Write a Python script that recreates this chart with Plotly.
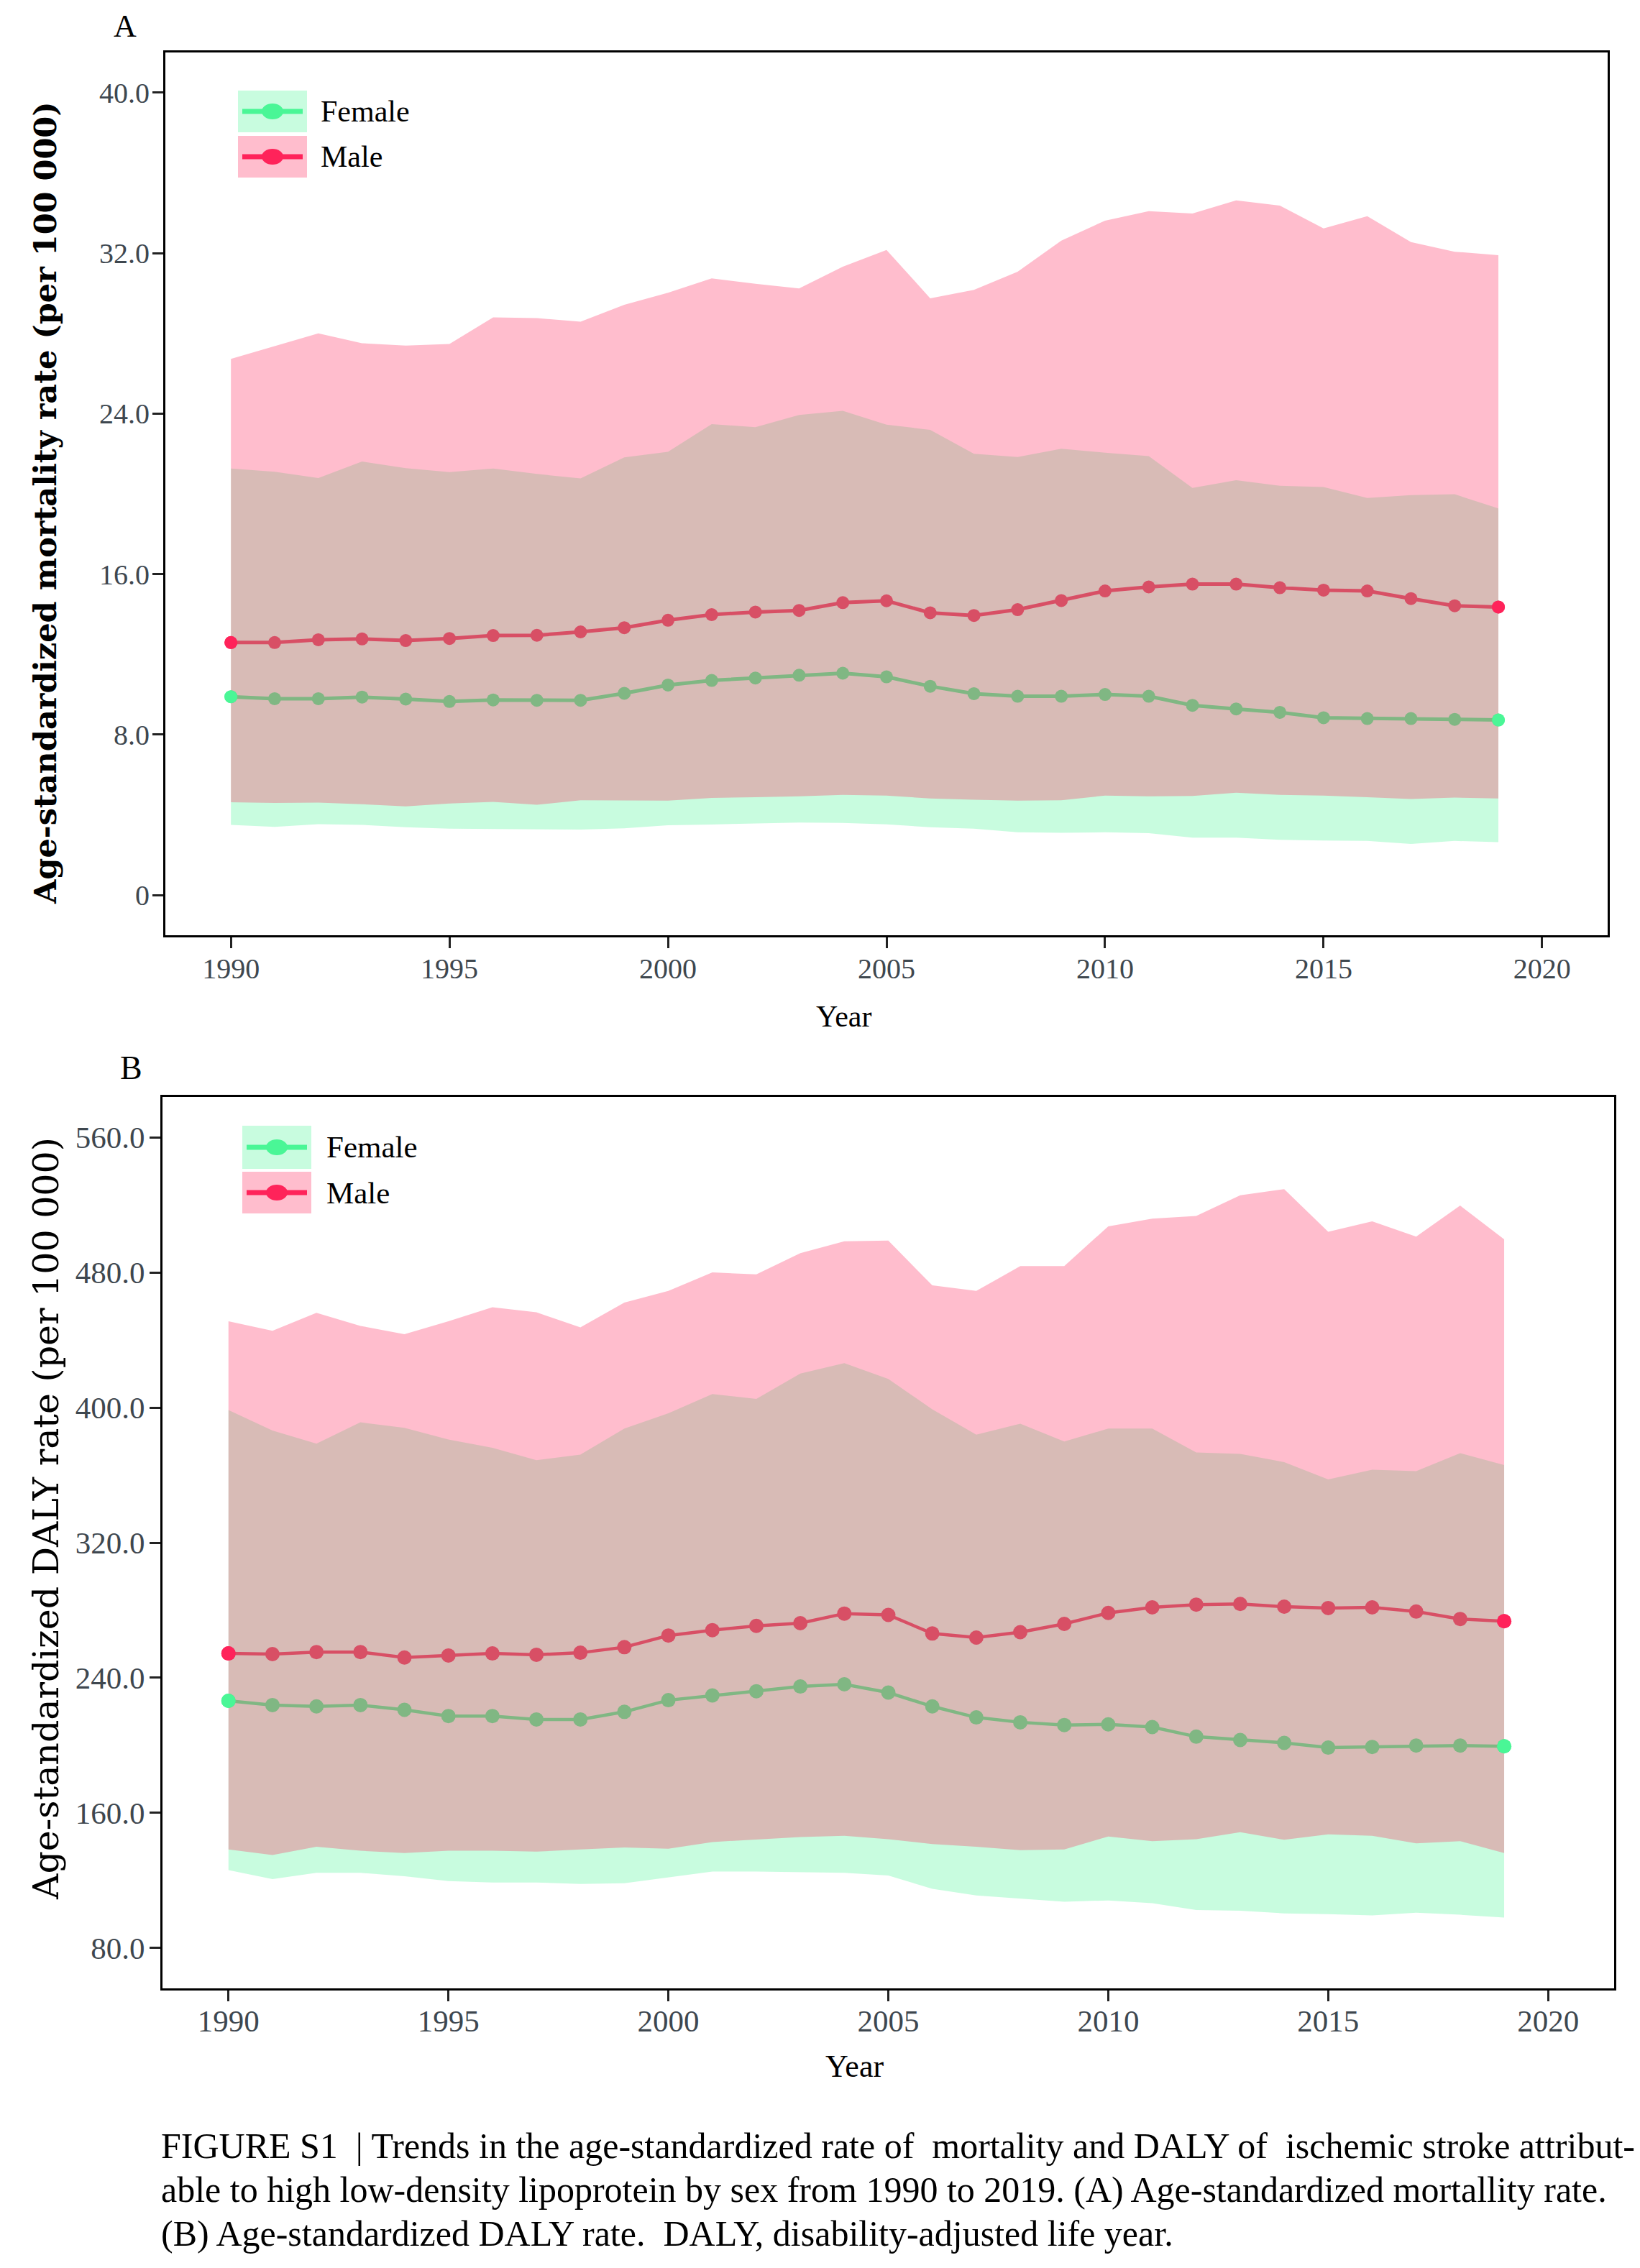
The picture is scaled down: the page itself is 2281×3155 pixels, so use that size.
import plotly.graph_objects as go

W, H = 2281, 3155

years = list(range(1990, 2020))

# Panel A: age-standardized mortality rate (per 100 000)
mort_male = [12.59, 12.59, 12.73, 12.77, 12.69, 12.79, 12.94, 12.95, 13.12, 13.33,
             13.70, 13.98, 14.11, 14.19, 14.58, 14.67, 14.07, 13.94, 14.23, 14.68,
             15.16, 15.36, 15.50, 15.50, 15.32, 15.20, 15.16, 14.78, 14.42, 14.36]
mort_male_upper = [26.73, 27.37, 28.00, 27.51, 27.39, 27.47, 28.80, 28.76, 28.58, 29.42,
                   30.02, 30.74, 30.47, 30.24, 31.32, 32.16, 29.75, 30.17, 31.07, 32.62,
                   33.62, 34.09, 33.97, 34.63, 34.37, 33.23, 33.84, 32.55, 32.07, 31.90]
mort_male_lower = [4.63, 4.59, 4.61, 4.53, 4.42, 4.57, 4.65, 4.50, 4.73, 4.71,
                   4.71, 4.84, 4.88, 4.92, 5.00, 4.96, 4.82, 4.75, 4.71, 4.73,
                   4.96, 4.92, 4.94, 5.10, 5.00, 4.96, 4.88, 4.79, 4.86, 4.82]
mort_female = [9.89, 9.79, 9.79, 9.87, 9.77, 9.65, 9.73, 9.71, 9.71, 10.06,
               10.47, 10.70, 10.82, 10.96, 11.06, 10.88, 10.41, 10.04, 9.91, 9.91,
               10.00, 9.91, 9.46, 9.28, 9.11, 8.84, 8.80, 8.80, 8.76, 8.73]
mort_female_upper = [21.26, 21.10, 20.79, 21.61, 21.28, 21.08, 21.26, 20.99, 20.77, 21.82,
                     22.10, 23.48, 23.32, 23.93, 24.14, 23.45, 23.19, 22.00, 21.84, 22.25,
                     22.05, 21.88, 20.30, 20.68, 20.40, 20.34, 19.79, 19.94, 19.98, 19.27]
mort_female_lower = [3.50, 3.40, 3.54, 3.50, 3.38, 3.31, 3.31, 3.29, 3.27, 3.33,
                     3.48, 3.52, 3.56, 3.62, 3.60, 3.53, 3.38, 3.31, 3.13, 3.11,
                     3.13, 3.09, 2.86, 2.86, 2.76, 2.72, 2.70, 2.55, 2.70, 2.64]

# Panel B: age-standardized DALY rate (per 100 000)
daly_male = [254.4, 254.0, 255.2, 255.2, 252.0, 253.2, 254.4, 253.6, 254.8, 258.1,
             265.0, 268.2, 270.7, 272.3, 278.0, 277.2, 266.2, 263.8, 267.0, 271.9,
             278.4, 281.7, 283.3, 283.7, 282.1, 281.3, 281.7, 279.2, 274.8, 273.5]
daly_male_upper = [451.2, 445.5, 456.1, 448.4, 443.5, 451.2, 459.4, 456.5, 447.5, 462.2,
                   469.1, 480.1, 478.9, 491.5, 498.5, 498.9, 472.4, 469.1, 483.8, 483.8,
                   507.4, 511.9, 513.5, 525.8, 529.4, 504.2, 510.3, 501.3, 519.7, 499.7]
daly_male_lower = [138.3, 135.0, 139.9, 137.5, 136.2, 137.5, 137.5, 137.0, 138.3, 139.5,
                   138.7, 142.7, 144.0, 145.6, 146.4, 144.4, 141.5, 139.9, 137.9, 138.3,
                   146.0, 143.2, 144.4, 148.5, 144.0, 147.2, 146.4, 141.9, 143.2, 136.2]
daly_female = [226.3, 223.8, 223.0, 223.8, 221.0, 217.3, 217.3, 215.3, 215.3, 219.8,
               226.7, 229.5, 232.0, 234.8, 236.1, 231.2, 223.0, 216.5, 213.6, 212.0,
               212.4, 210.8, 205.1, 203.1, 201.4, 198.6, 199.0, 199.8, 199.8, 199.4]
daly_female_upper = [398.6, 386.4, 378.7, 391.3, 388.0, 381.1, 376.2, 368.9, 372.2, 387.6,
                     396.6, 408.0, 405.2, 420.2, 426.3, 417.0, 399.0, 384.0, 390.5, 379.9,
                     387.6, 387.6, 373.4, 372.6, 367.7, 357.5, 363.2, 362.4, 373.0, 366.0]
daly_female_lower = [126.0, 120.7, 124.4, 124.4, 122.4, 119.5, 118.7, 118.7, 117.9, 118.3,
                     121.6, 125.2, 125.2, 124.8, 124.4, 122.8, 115.0, 111.0, 109.3, 107.3,
                     108.1, 106.5, 102.4, 102.0, 100.4, 100.0, 99.2, 100.8, 99.6, 97.9]

x_ticks = [1990, 1995, 2000, 2005, 2010, 2015, 2020]
mort_ticks = [0, 8, 16, 24, 32, 40]
mort_ticktext = ["0", "8.0", "16.0", "24.0", "32.0", "40.0"]
daly_ticks = [80, 160, 240, 320, 400, 480, 560]
daly_ticktext = ["80.0", "160.0", "240.0", "320.0", "400.0", "480.0", "560.0"]

sexes = ["Female", "Male"]

MALE = "#FF235A"
FEMALE = "#4AF696"
MALE_FILL = "rgba(255,35,90,0.3)"
FEMALE_FILL = "rgba(74,246,150,0.3)"
SERIF = "Liberation Serif, Times New Roman, serif"
WIDE_SERIF = "DejaVu Serif, serif"
TICK_COLOR = "#3E474F"


def px(x):
    return x / W


def py(y):
    return 1 - y / H


def add_panel(fig, xa, ya, series, msize, lwidth):
    # lines go first, the uncertainty ribbons are laid over them
    for mean, upper, lower, color, fill in series:
        fig.add_trace(go.Scatter(x=years, y=mean, mode="lines+markers",
                                 line=dict(color=color, width=lwidth),
                                 marker=dict(color=color, size=msize),
                                 xaxis=xa, yaxis=ya, showlegend=False,
                                 hoverinfo="skip"))
    for mean, upper, lower, color, fill in series:
        fig.add_trace(go.Scatter(x=years + years[::-1], y=upper + lower[::-1],
                                 fill="toself", fillcolor=fill, mode="lines",
                                 line=dict(width=0, color=fill),
                                 xaxis=xa, yaxis=ya, showlegend=False,
                                 hoverinfo="skip"))
    for mean, upper, lower, color, fill in series:
        fig.add_trace(go.Scatter(x=[years[0], years[-1]], y=[mean[0], mean[-1]],
                                 mode="markers", marker=dict(color=color, size=msize),
                                 xaxis=xa, yaxis=ya, showlegend=False,
                                 hoverinfo="skip"))


fig = go.Figure()

add_panel(fig, "x", "y",
          [(mort_female, mort_female_upper, mort_female_lower, FEMALE, FEMALE_FILL),
           (mort_male, mort_male_upper, mort_male_lower, MALE, MALE_FILL)],
          msize=18, lwidth=5)
add_panel(fig, "x2", "y2",
          [(daly_female, daly_female_upper, daly_female_lower, FEMALE, FEMALE_FILL),
           (daly_male, daly_male_upper, daly_male_lower, MALE, MALE_FILL)],
          msize=20, lwidth=4.5)

axis_common = dict(showline=True, linewidth=3, linecolor="black", mirror=True,
                   showgrid=False, zeroline=False, ticks="outside", ticklen=15,
                   tickwidth=3, tickcolor="#222222")

fig.update_layout(
    width=W, height=H,
    margin=dict(l=0, r=0, t=0, b=0),
    paper_bgcolor="white", plot_bgcolor="white",
    showlegend=False,
    xaxis=dict(domain=[px(222), px(2228)], anchor="y", range=[1988.5, 2021.5],
               tickvals=x_ticks, ticklabelstandoff=-6,
               tickfont=dict(family=SERIF, size=40, color=TICK_COLOR), **axis_common),
    yaxis=dict(domain=[py(1293), py(65)], anchor="x", range=[-2, 42],
               tickvals=mort_ticks, ticktext=mort_ticktext, ticklabelstandoff=-4,
               tickfont=dict(family=SERIF, size=40, color=TICK_COLOR), **axis_common),
    xaxis2=dict(domain=[px(218), px(2237)], anchor="y2", range=[1988.5, 2021.5],
                tickvals=x_ticks, ticklabelstandoff=-10,
                tickfont=dict(family=SERIF, size=43, color=TICK_COLOR), **axis_common),
    yaxis2=dict(domain=[py(2758), py(1518)], anchor="x2", range=[56, 584],
                tickvals=daly_ticks, ticktext=daly_ticktext, ticklabelstandoff=-2,
                tickfont=dict(family=SERIF, size=43, color=TICK_COLOR), **axis_common),
)

annotations = []
shapes = []


def text(x, y, s, size, family=SERIF, angle=0, xanchor="center", weight="normal"):
    annotations.append(dict(x=px(x), y=py(y), xref="paper", yref="paper", text=s,
                            showarrow=False, textangle=angle, xanchor=xanchor,
                            yanchor="middle",
                            font=dict(family=family, size=size, color="black",
                                      weight=weight)))


# panel letters and axis titles
text(166, 28, "A", 44)
text(174, 1477, "B", 46)
text(55, 692, "Age-standardized mortality rate (per 100 000)", 43,
     family=WIDE_SERIF, angle=-90, weight="bold")
text(56, 2105, "Age-standardized DALY rate (per 100 000)", 49,
     family=WIDE_SERIF, angle=-90)
text(1165, 1406, "Year", 42)
text(1180, 2866, "Year", 44)

# legends (swatch with line and point, as in the original figure)
legend_boxes = [
    (323, 419, [(118, 176), (181, 239)], 436, 42),
    (329, 425, [(1558, 1618), (1622, 1680)], 444, 43),
]
for x0, x1, rows, tx, fsize in legend_boxes:
    for (y0, y1), name, col, fill in zip(rows, sexes, [FEMALE, MALE],
                                         [FEMALE_FILL, MALE_FILL]):
        yc = (y0 + y1) / 2
        xc = (x0 + x1) / 2
        shapes.append(dict(type="rect", xref="paper", yref="paper",
                           x0=px(x0), x1=px(x1), y0=py(y1), y1=py(y0),
                           fillcolor=fill, line=dict(width=0), layer="above"))
        shapes.append(dict(type="line", xref="paper", yref="paper",
                           x0=px(x0 + 6), x1=px(x1 - 6), y0=py(yc), y1=py(yc),
                           line=dict(color=col, width=7), layer="above"))
        shapes.append(dict(type="circle", xref="paper", yref="paper",
                           x0=px(xc - 15), x1=px(xc + 15), y0=py(yc + 11),
                           y1=py(yc - 11), fillcolor=col, line=dict(width=0),
                           layer="above"))
        text(tx, yc, name, fsize, xanchor="left")

# caption
nb = "\u00a0"
caption_lines = [
    "FIGURE S1" + nb + " | Trends in the age-standardized rate of" + nb
    + " mortality and DALY of" + nb + " ischemic stroke attribut-",
    "able to high low-density lipoprotein by sex from 1990 to 2019. (A) "
    "Age-standardized mortallity rate.",
    "(B) Age-standardized DALY rate." + nb + " DALY, disability-adjusted life year.",
]
for i, line in enumerate(caption_lines):
    text(214, 2977 + 61 * i, line, 50, xanchor="left")

fig.update_layout(annotations=annotations, shapes=shapes)

fig.write_html("out.html")
